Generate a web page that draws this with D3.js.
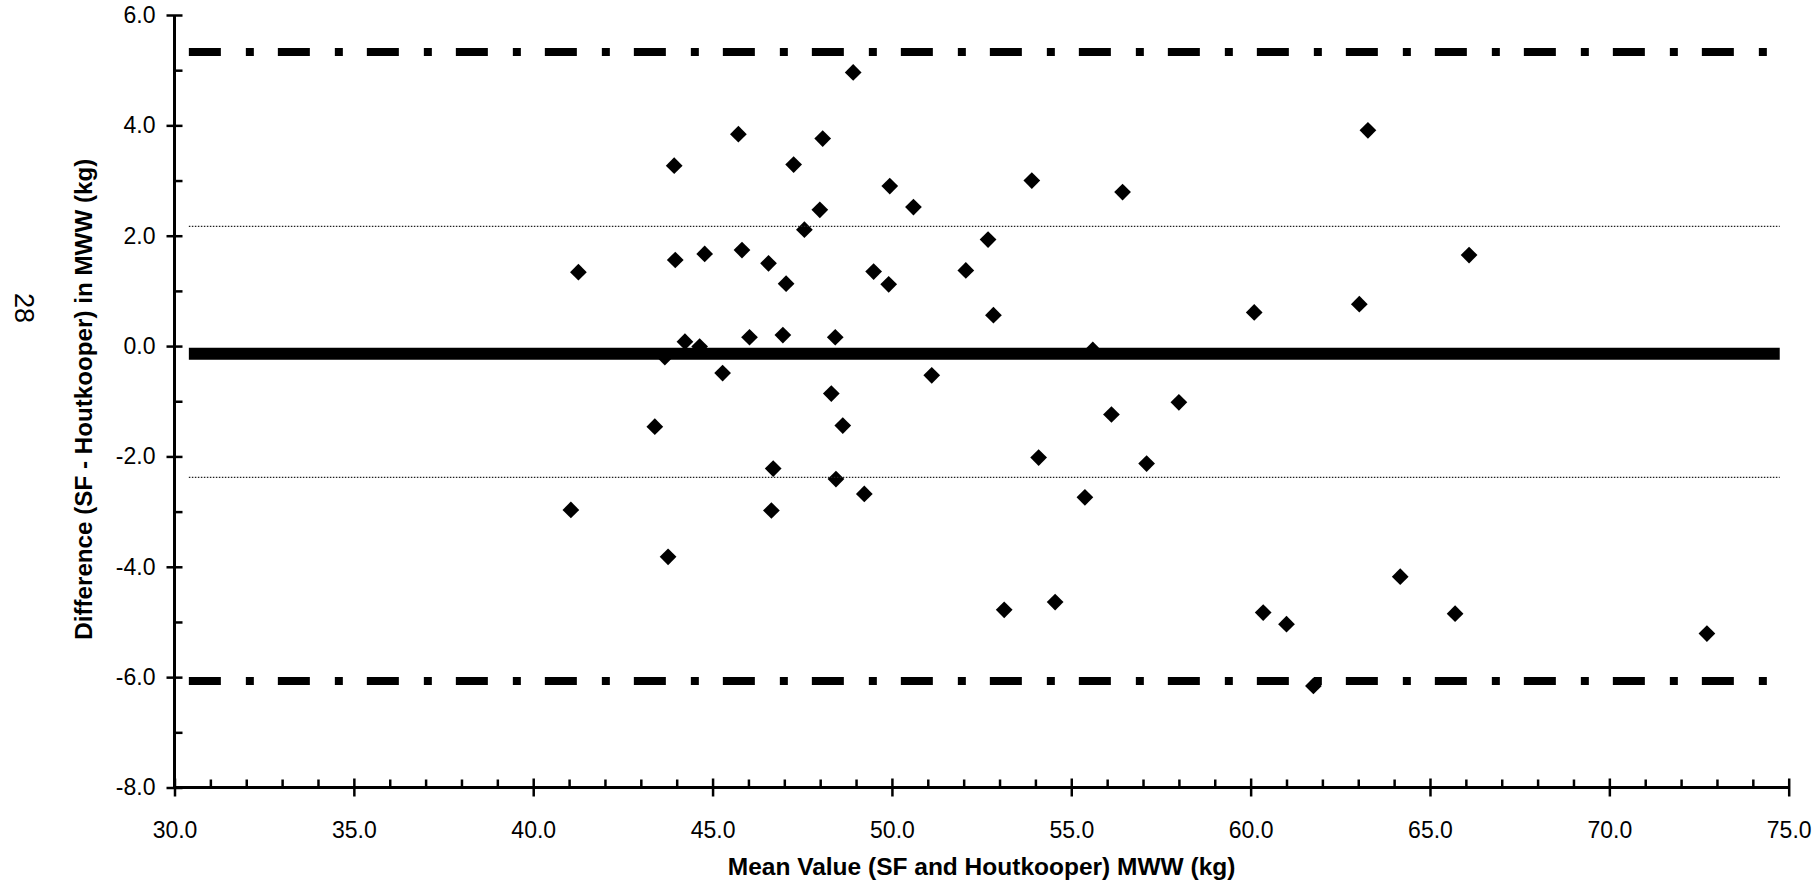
<!DOCTYPE html>
<html>
<head>
<meta charset="utf-8">
<script src="https://cdn.jsdelivr.net/npm/d3@7"></script>
<style>
  html, body { margin: 0; padding: 0; background: #fff; }
  svg { display: block; }
  text { font-family: "Liberation Sans", Arial, sans-serif; fill: #000; }
</style>
</head>
<body>
<svg id="chart" width="1816" height="884"></svg>
<script>
// ---- Data ----
const meanValue = [48.92, 45.72, 48.07, 43.93, 47.26, 49.94, 47.99, 47.56, 41.26, 43.96,
  44.78, 45.82, 46.56, 47.05, 49.49, 49.91, 44.23, 44.64, 43.67, 46.03,
  46.96, 48.42, 45.28, 48.31, 43.39, 48.63, 46.69, 48.44, 49.23, 41.05,
  46.64, 43.76, 50.60, 53.90, 56.43, 63.27, 52.68, 52.06, 52.83, 60.10,
  63.03, 55.60, 51.11, 56.12, 58.00, 66.09, 54.09, 57.10, 55.38, 53.13,
  54.55, 60.35, 61.00, 61.75, 64.17, 65.70, 72.72];
const difference = [4.96, 3.84, 3.76, 3.27, 3.29, 2.90, 2.47, 2.11, 1.34, 1.56,
  1.67, 1.74, 1.50, 1.13, 1.35, 1.12, 0.08, -0.01, -0.20, 0.16,
  0.20, 0.16, -0.49, -0.86, -1.46, -1.44, -2.22, -2.41, -2.68, -2.97,
  -2.98, -3.82, 2.52, 3.00, 2.79, 3.91, 1.93, 1.37, 0.56, 0.61,
  0.76, -0.07, -0.53, -1.24, -1.02, 1.65, -2.02, -2.13, -2.74, -4.78,
  -4.64, -4.83, -5.04, -6.16, -4.18, -4.85, -5.21];

const meanDiff = -0.14;              // thick solid line
const sdBand = [2.17, -2.38];        // thin dotted lines
const limits = [5.33, -6.07];        // dash-dot lines
const lineSpan = [30.4, 74.75];      // x extent of the horizontal reference lines

const xMajor = [30, 35, 40, 45, 50, 55, 60, 65, 70, 75];
const xMinor = d3.range(31, 75, 1).filter(v => v % 5 !== 0);
const yMajor = [-8, -6, -4, -2, 0, 2, 4, 6];
const yMinor = [-7, -5, -3, -1, 1, 3, 5];

const xTitle = "Mean Value (SF and Houtkooper) MWW (kg)";
const yTitle = "Difference (SF - Houtkooper) in MWW (kg)";
const pageNumber = "28";

// ---- Layout ----
const svg = d3.select("#chart");
const x = d3.scaleLinear().domain([30, 75]).range([174.5, 1788.7]);
const y = d3.scaleLinear().domain([-8, 6]).range([787.5, 15]);
const locale = d3.formatLocale({ decimal: ".", thousands: ",", grouping: [3], currency: ["", ""], minus: "-" });
const fmt = locale.format(".1f");

svg.append("rect").attr("width", 1816).attr("height", 884).attr("fill", "#fff");

// reference lines
const lineG = svg.append("g");
limits.forEach(v => {
  lineG.append("line")
    .attr("x1", x(lineSpan[0])).attr("x2", x(lineSpan[1]))
    .attr("y1", y(v)).attr("y2", y(v))
    .attr("stroke", "#000").attr("stroke-width", 8)
    .attr("stroke-dasharray", "32,25,8,24");
});
sdBand.forEach(v => {
  lineG.append("line")
    .attr("x1", x(lineSpan[0])).attr("x2", x(lineSpan[1]))
    .attr("y1", y(v)).attr("y2", y(v))
    .attr("stroke", "#222").attr("stroke-width", 1.4)
    .attr("stroke-dasharray", "1.5,1.5");
});

// points
const pts = meanValue.map((m, i) => ({ m, d: difference[i] }));
svg.append("g").selectAll("path").data(pts).join("path")
  .attr("d", d3.symbol().type(d3.symbolSquare).size(140))
  .attr("transform", p => `translate(${x(p.m)},${y(p.d)}) rotate(45)`)
  .attr("fill", "#000");

lineG.raise();
// mean line (drawn over the points, as in the reference)
svg.append("line")
  .attr("x1", x(lineSpan[0])).attr("x2", x(lineSpan[1]))
  .attr("y1", y(meanDiff)).attr("y2", y(meanDiff))
  .attr("stroke", "#000").attr("stroke-width", 12);

// x axis
const xAxisG = svg.append("g").attr("transform", `translate(0,${y(-8)})`)
  .call(d3.axisBottom(x).tickValues(xMajor).tickFormat(fmt).tickSize(9).tickPadding(25));
xAxisG.select(".domain").remove();
xAxisG.selectAll(".tick line").attr("y1", -9).attr("y2", 9).attr("stroke", "#000").attr("stroke-width", 2.5);
xAxisG.selectAll(".tick text").attr("font-size", 23).attr("font-family", "Liberation Sans, Arial, sans-serif");
svg.append("g").attr("transform", `translate(0,${y(-8)})`)
  .call(d3.axisTop(x).tickValues(xMinor).tickFormat("").tickSize(8))
  .call(g => g.select(".domain").remove())
  .selectAll(".tick line").attr("stroke", "#000").attr("stroke-width", 2.5);
svg.append("line")
  .attr("x1", x(30)).attr("x2", x(75)).attr("y1", y(-8)).attr("y2", y(-8))
  .attr("stroke", "#000").attr("stroke-width", 3);

// y axis
const yAxisG = svg.append("g").attr("transform", `translate(${x(30)},0)`)
  .call(d3.axisLeft(y).tickValues(yMajor).tickFormat(fmt).tickSize(8).tickPadding(11));
yAxisG.select(".domain").remove();
yAxisG.selectAll(".tick line").attr("x1", -8).attr("x2", 8).attr("stroke", "#000").attr("stroke-width", 2.5);
yAxisG.selectAll(".tick text").attr("font-size", 23).attr("font-family", "Liberation Sans, Arial, sans-serif");
svg.append("g").attr("transform", `translate(${x(30)},0)`)
  .call(d3.axisRight(y).tickValues(yMinor).tickFormat("").tickSize(8))
  .call(g => g.select(".domain").remove())
  .selectAll(".tick line").attr("stroke", "#000").attr("stroke-width", 2.5);
svg.append("line")
  .attr("x1", x(30)).attr("x2", x(30)).attr("y1", y(6)).attr("y2", y(-8) + 1.5)
  .attr("stroke", "#000").attr("stroke-width", 3);

// titles
svg.append("text")
  .attr("x", (x(30) + x(75)) / 2).attr("y", 875)
  .attr("text-anchor", "middle").attr("font-size", 24.5).attr("font-weight", "bold")
  .text(xTitle);
svg.append("text")
  .attr("transform", `translate(92,${(y(6) + y(-8)) / 2 - 2}) rotate(-90)`)
  .attr("text-anchor", "middle").attr("font-size", 24.2).attr("font-weight", "bold")
  .text(yTitle);
svg.append("text")
  .attr("transform", `translate(15,308) rotate(90)`)
  .attr("text-anchor", "middle").attr("font-size", 27)
  .text(pageNumber);
</script>
</body>
</html>
